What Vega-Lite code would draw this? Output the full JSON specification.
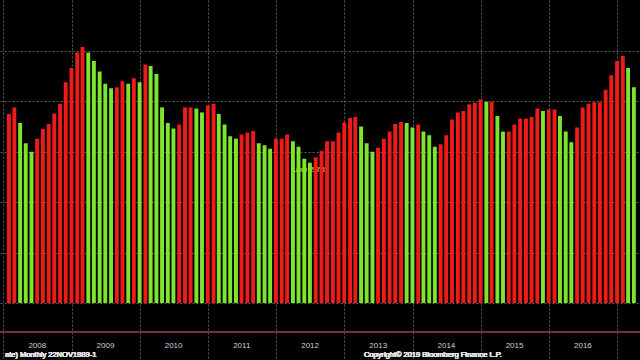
{
  "$schema": "https://vega.github.io/schema/vega-lite/v6.json",
  "width": 640,
  "height": 360,
  "autosize": {"type": "none"},
  "padding": 0,
  "background": "#000000",
  "config": {"view": {"stroke": null}, "text": {"font": "Liberation Sans"}},
  "datasets": {
    "series": [
      {"d":"2008-01-31","v":3.75,"c":"up"},{"d":"2008-02-29","v":3.88,"c":"up"},{"d":"2008-03-31","v":3.57,"c":"down"},{"d":"2008-04-30","v":3.17,"c":"down"},{"d":"2008-05-31","v":3.00,"c":"down"},{"d":"2008-06-30","v":3.26,"c":"up"},{"d":"2008-07-31","v":3.45,"c":"up"},{"d":"2008-08-31","v":3.55,"c":"up"},{"d":"2008-09-30","v":3.76,"c":"up"},{"d":"2008-10-31","v":3.95,"c":"up"},{"d":"2008-11-30","v":4.38,"c":"up"},{"d":"2008-12-31","v":4.66,"c":"up"},
      {"d":"2009-01-31","v":4.97,"c":"up"},{"d":"2009-02-28","v":5.08,"c":"up"},{"d":"2009-03-31","v":4.97,"c":"down"},{"d":"2009-04-30","v":4.80,"c":"down"},{"d":"2009-05-31","v":4.59,"c":"down"},{"d":"2009-06-30","v":4.35,"c":"down"},{"d":"2009-07-31","v":4.26,"c":"down"},{"d":"2009-08-31","v":4.28,"c":"up"},{"d":"2009-09-30","v":4.40,"c":"up"},{"d":"2009-10-31","v":4.35,"c":"down"},{"d":"2009-11-30","v":4.46,"c":"up"},{"d":"2009-12-31","v":4.38,"c":"down"},
      {"d":"2010-01-31","v":4.73,"c":"up"},{"d":"2010-02-28","v":4.70,"c":"down"},{"d":"2010-03-31","v":4.54,"c":"down"},{"d":"2010-04-30","v":3.88,"c":"down"},{"d":"2010-05-31","v":3.57,"c":"down"},{"d":"2010-06-30","v":3.46,"c":"down"},{"d":"2010-07-31","v":3.54,"c":"up"},{"d":"2010-08-31","v":3.88,"c":"up"},{"d":"2010-09-30","v":3.88,"c":"up"},{"d":"2010-10-31","v":3.86,"c":"down"},{"d":"2010-11-30","v":3.78,"c":"down"},{"d":"2010-12-31","v":3.92,"c":"up"},
      {"d":"2011-01-31","v":3.95,"c":"up"},{"d":"2011-02-28","v":3.75,"c":"down"},{"d":"2011-03-31","v":3.54,"c":"down"},{"d":"2011-04-30","v":3.31,"c":"down"},{"d":"2011-05-31","v":3.26,"c":"down"},{"d":"2011-06-30","v":3.34,"c":"up"},{"d":"2011-07-31","v":3.38,"c":"up"},{"d":"2011-08-31","v":3.41,"c":"up"},{"d":"2011-09-30","v":3.17,"c":"down"},{"d":"2011-10-31","v":3.13,"c":"down"},{"d":"2011-11-30","v":3.06,"c":"down"},{"d":"2011-12-31","v":3.26,"c":"up"},
      {"d":"2012-01-31","v":3.26,"c":"up"},{"d":"2012-02-29","v":3.34,"c":"up"},{"d":"2012-03-31","v":3.21,"c":"down"},{"d":"2012-04-30","v":3.10,"c":"down"},{"d":"2012-05-31","v":2.86,"c":"down"},{"d":"2012-06-30","v":2.78,"c":"down"},{"d":"2012-07-31","v":2.89,"c":"up"},{"d":"2012-08-31","v":3.02,"c":"up"},{"d":"2012-09-30","v":3.21,"c":"up"},{"d":"2012-10-31","v":3.21,"c":"up"},{"d":"2012-11-30","v":3.38,"c":"up"},{"d":"2012-12-31","v":3.58,"c":"up"},
      {"d":"2013-01-31","v":3.67,"c":"up"},{"d":"2013-02-28","v":3.69,"c":"up"},{"d":"2013-03-31","v":3.50,"c":"down"},{"d":"2013-04-30","v":3.17,"c":"down"},{"d":"2013-05-31","v":3.00,"c":"down"},{"d":"2013-06-30","v":3.08,"c":"up"},{"d":"2013-07-31","v":3.26,"c":"up"},{"d":"2013-08-31","v":3.40,"c":"up"},{"d":"2013-09-30","v":3.55,"c":"up"},{"d":"2013-10-31","v":3.59,"c":"up"},{"d":"2013-11-30","v":3.57,"c":"down"},{"d":"2013-12-31","v":3.48,"c":"down"},
      {"d":"2014-01-31","v":3.54,"c":"up"},{"d":"2014-02-28","v":3.40,"c":"down"},{"d":"2014-03-31","v":3.33,"c":"down"},{"d":"2014-04-30","v":3.10,"c":"down"},{"d":"2014-05-31","v":3.15,"c":"up"},{"d":"2014-06-30","v":3.33,"c":"up"},{"d":"2014-07-31","v":3.64,"c":"up"},{"d":"2014-08-31","v":3.78,"c":"up"},{"d":"2014-09-30","v":3.81,"c":"up"},{"d":"2014-10-31","v":3.94,"c":"up"},{"d":"2014-11-30","v":3.97,"c":"up"},{"d":"2014-12-31","v":4.04,"c":"up"},
      {"d":"2015-01-31","v":3.99,"c":"down"},{"d":"2015-02-28","v":3.99,"c":"up"},{"d":"2015-03-31","v":3.71,"c":"down"},{"d":"2015-04-30","v":3.40,"c":"down"},{"d":"2015-05-31","v":3.40,"c":"up"},{"d":"2015-06-30","v":3.54,"c":"up"},{"d":"2015-07-31","v":3.66,"c":"up"},{"d":"2015-08-31","v":3.66,"c":"up"},{"d":"2015-09-30","v":3.69,"c":"up"},{"d":"2015-10-31","v":3.86,"c":"up"},{"d":"2015-11-30","v":3.81,"c":"down"},{"d":"2015-12-31","v":3.84,"c":"up"},
      {"d":"2016-01-31","v":3.84,"c":"up"},{"d":"2016-02-29","v":3.71,"c":"down"},{"d":"2016-03-31","v":3.40,"c":"down"},{"d":"2016-04-30","v":3.19,"c":"down"},{"d":"2016-05-31","v":3.48,"c":"up"},{"d":"2016-06-30","v":3.88,"c":"up"},{"d":"2016-07-31","v":3.95,"c":"up"},{"d":"2016-08-31","v":3.98,"c":"up"},{"d":"2016-09-30","v":3.98,"c":"up"},{"d":"2016-10-31","v":4.23,"c":"up"},{"d":"2016-11-30","v":4.52,"c":"up"},{"d":"2016-12-31","v":4.80,"c":"up"},
      {"d":"2017-01-31","v":4.90,"c":"up"},{"d":"2017-02-28","v":4.66,"c":"down"},{"d":"2017-03-31","v":4.28,"c":"down"}
    ],
    "years": [
      {"m":"2008-07-01","label":"2008"},{"m":"2009-07-01","label":"2009"},{"m":"2010-07-01","label":"2010"},{"m":"2011-07-01","label":"2011"},{"m":"2012-07-01","label":"2012"},{"m":"2013-07-01","label":"2013"},{"m":"2014-07-01","label":"2014"},{"m":"2015-07-01","label":"2015"},{"m":"2016-07-01","label":"2016"}
    ]
  },
  "layer": [
    {
      "data": {"name": "series"},
      "mark": {"type": "rule", "color": "#7a3347", "strokeWidth": 1},
      "encoding": {"y": {"datum": -0.57, "type": "quantitative"}}
    },
    {
      "data": {"name": "series"},
      "mark": {"type": "text", "text": "Low 2.78", "align": "left", "baseline": "middle", "fontSize": 8, "color": "#8e8c12"},
      "encoding": {
        "x": {"datum": {"year": 2012, "month": 3, "date": 26, "utc": true}, "type": "temporal"},
        "y": {"datum": 2.64, "type": "quantitative"}
      }
    },
    {
      "data": {"name": "series"},
      "mark": {"type": "bar", "width": 3.9},
      "encoding": {
        "x": {
          "field": "d", "type": "temporal",
          "scale": {"type": "utc", "domain": [{"year": 2008, "month": 1, "date": 10, "utc": true}, {"year": 2017, "month": 4, "date": 6, "utc": true}]},
          "axis": {"title": null, "labels": false, "ticks": false, "domain": false, "grid": true, "gridColor": "#5c5c5c", "gridDash": [2, 2], "tickCount": {"interval": "year", "step": 1}}
        },
        "y": {
          "field": "v", "type": "quantitative",
          "scale": {"domain": [-1.13, 6.01], "nice": false, "zero": false},
          "axis": {"title": null, "labels": false, "ticks": false, "domain": false, "grid": true, "gridColor": "#5c5c5c", "gridDash": [2, 2], "values": [0, 1, 2, 3, 4, 5]}
        },
        "y2": {"datum": 0},
        "color": {"field": "c", "type": "nominal", "scale": {"domain": ["up", "down"], "range": ["#ee1b1b", "#7de52c"]}, "legend": null}
      }
    },
    {
      "data": {"name": "years"},
      "mark": {"type": "text", "align": "center", "baseline": "middle", "fontSize": 8, "color": "#d0d0d0"},
      "encoding": {
        "x": {"field": "m", "type": "temporal"},
        "y": {"datum": -0.85, "type": "quantitative"},
        "text": {"field": "label"}
      }
    },
    {
      "data": {"name": "years"},
      "mark": {"type": "text", "text": "ate)  Monthly 22NOV1989-1", "align": "left", "baseline": "middle", "fontSize": 7.5, "color": "#e0e0e0"},
      "encoding": {
        "x": {"datum": {"year": 2008, "month": 1, "date": 10, "utc": true}, "type": "temporal"},
        "y": {"datum": -1.03, "type": "quantitative"}
      }
    },
    {
      "data": {"name": "years"},
      "mark": {"type": "text", "text": "Copyright© 2019 Bloomberg Finance L.P.", "align": "left", "baseline": "middle", "fontSize": 7.5, "color": "#e0e0e0"},
      "encoding": {
        "x": {"datum": {"year": 2013, "month": 4, "date": 15, "utc": true}, "type": "temporal"},
        "y": {"datum": -1.03, "type": "quantitative"}
      }
    }
  ]
}
